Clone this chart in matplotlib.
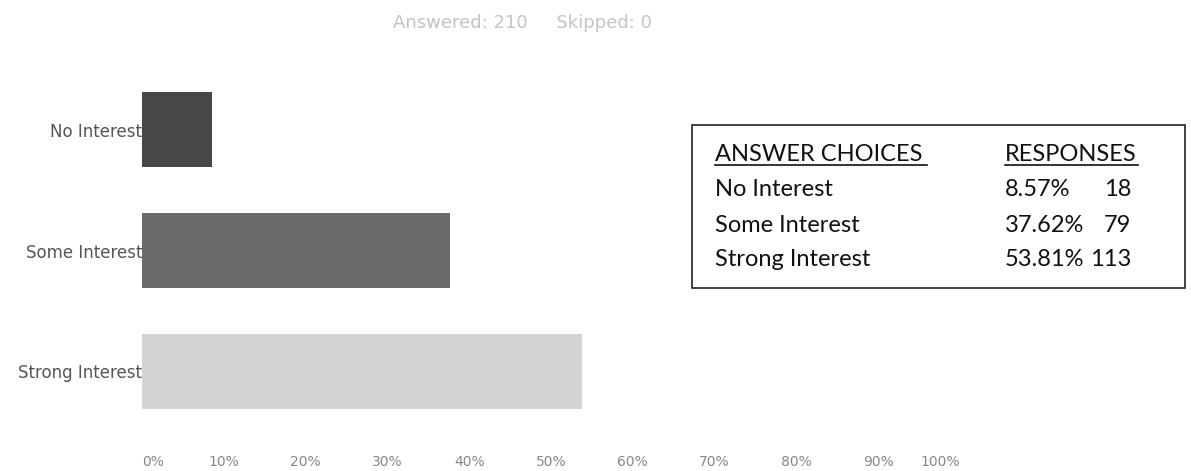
import matplotlib
matplotlib.use("Agg")
import matplotlib.pyplot as plt
from matplotlib.patches import Rectangle
from matplotlib.lines import Line2D

# data
choices = ["No Interest", "Some Interest", "Strong Interest"]
percents = [8.57, 37.62, 53.81]
counts = [18, 79, 113]
tick_vals = [0, 10, 20, 30, 40, 50, 60, 70, 80, 90, 100]
tick_text = ["0%", "10%", "20%", "30%", "40%", "50%", "60%", "70%", "80%", "90%", "100%"]
bar_colors = ["#474747", "#6a6a6a", "#d4d4d4"]
title = "Answered: 210     Skipped: 0"

W, H = 1191, 471
fig = plt.figure(figsize=(W / 100, H / 100), dpi=100)

def fx(px):
    return px / W

def fy(py):
    return 1 - py / H

# axes spans pixel x 142..960, y 57..444
ax = fig.add_axes([fx(142), fy(444), fx(960) - fx(142), fy(57) - fy(444)])
ax.barh(range(len(choices)), percents, height=0.62, color=bar_colors)
ax.set_xlim(0, 100)
ax.set_ylim(2.6, -0.6)
ax.set_yticks(range(len(choices)))
ax.set_yticklabels(choices, family="DejaVu Sans", fontsize=12, color="#555555")
ax.set_xticks(tick_vals)
ax.set_xticklabels(tick_text, family="DejaVu Sans", fontsize=10, color="#888888")
lbls = ax.get_xticklabels()
lbls[0].set_ha("left")
lbls[-1].set_ha("right")
ax.tick_params(axis="y", length=0, pad=0)
ax.tick_params(axis="x", length=0, pad=8)
for s in ax.spines.values():
    s.set_visible(False)

fig.text(fx(522), fy(23), title, ha="center", va="center",
         fontsize=13, color="#c4c4c4", family="DejaVu Sans")

# response table on the right
fig.patches.append(Rectangle((fx(692), fy(288)), fx(1185) - fx(692), fy(125) - fy(288),
                             transform=fig.transFigure, fill=False,
                             edgecolor="#222222", linewidth=1.2))
tfont = dict(family="Lato", fontsize=17, color="#111111", va="center")
fig.text(fx(715), fy(155), "ANSWER CHOICES", **tfont)
fig.text(fx(1005), fy(155), "RESPONSES", **tfont)
fig.lines.append(Line2D([fx(715), fx(927)], [fy(165), fy(165)],
                       transform=fig.transFigure, color="#111111", lw=1.2))
fig.lines.append(Line2D([fx(1005), fx(1138)], [fy(165), fy(165)],
                       transform=fig.transFigure, color="#111111", lw=1.2))
row_y = [190, 225, 260]
for i in range(len(choices)):
    fig.text(fx(715), fy(row_y[i]), choices[i], **tfont)
    fig.text(fx(1005), fy(row_y[i]), "%.2f%%" % percents[i], **tfont)
    fig.text(fx(1131), fy(row_y[i]), str(counts[i]), ha="right", **tfont)

fig.savefig("out.png", dpi=100)
